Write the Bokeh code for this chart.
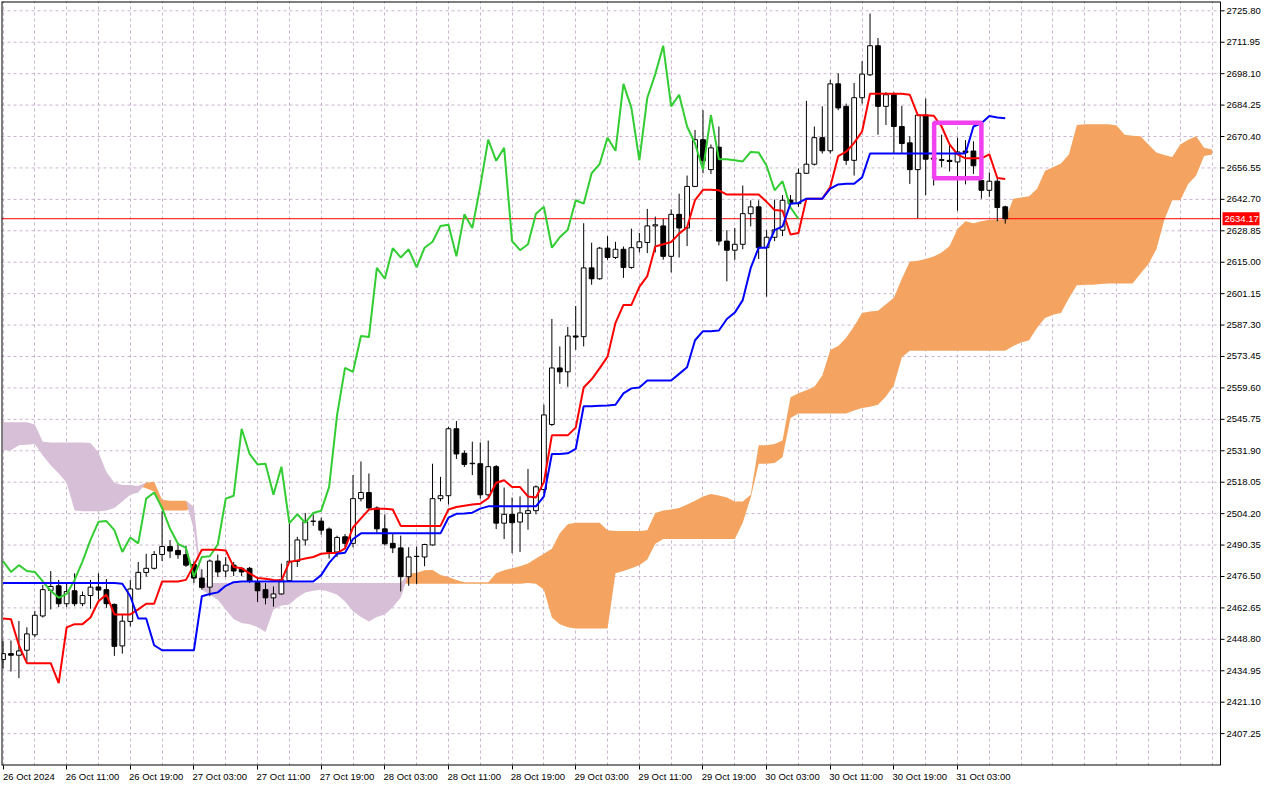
from bokeh.plotting import figure
from bokeh.models import Range1d, FixedTicker, Span
from bokeh.core.properties import value
from bokeh.embed import file_html
from bokeh.resources import INLINE

# ---------------- data (H1 bars) ----------------
XLABELS = ["26 Oct 2024", "26 Oct 11:00", "26 Oct 19:00", "27 Oct 03:00", "27 Oct 11:00",
           "27 Oct 19:00", "28 Oct 03:00", "28 Oct 11:00", "28 Oct 19:00", "29 Oct 03:00",
           "29 Oct 11:00", "29 Oct 19:00", "30 Oct 03:00", "30 Oct 11:00", "30 Oct 19:00",
           "31 Oct 03:00"]

PRICE_TICKS = [2725.80, 2711.95, 2698.10, 2684.25, 2670.40, 2656.55, 2642.70, 2628.85,
               2615.00, 2601.15, 2587.30, 2573.45, 2559.60, 2545.75, 2531.90, 2518.05,
               2504.20, 2490.35, 2476.50, 2462.65, 2448.80, 2434.95, 2421.10, 2407.25]

LAST_PRICE = 2634.17

OPEN = [
    2439.9, 2442.5, 2441.8, 2444.0, 2450.8, 2459.1, 2470.4, 2472.4, 2464.5, 2470.2,
    2464.5, 2468.1, 2471.9, 2470.7, 2464.2, 2445.9, 2456.7, 2471.0, 2478.3, 2480.1,
    2486.2, 2489.7, 2488.0, 2486.1, 2481.8, 2475.8, 2471.8, 2483.3, 2478.9, 2481.5,
    2480.1, 2480.1, 2473.8, 2470.7, 2467.1, 2468.8, 2474.7, 2483.2, 2492.6, 2500.8,
    2500.9, 2497.4, 2487.3, 2494.0, 2491.1, 2510.8, 2513.5, 2506.7, 2497.5, 2491.1,
    2489.1, 2476.4, 2485.3, 2485.1, 2490.4, 2510.8, 2512.1, 2541.6, 2530.8, 2526.4,
    2526.2, 2512.5, 2524.9, 2500.0, 2503.9, 2500.5, 2504.3, 2505.5, 2514.8, 2543.5,
    2568.4, 2566.7, 2582.5, 2582.2, 2612.5, 2607.7, 2621.2, 2617.1, 2620.7, 2612.7,
    2621.4, 2623.7, 2631.0, 2631.0, 2617.6, 2636.1, 2630.1, 2648.4, 2669.0, 2655.8,
    2665.7, 2624.3, 2620.3, 2622.9, 2636.4, 2639.4, 2621.4, 2626.0, 2629.1, 2642.4,
    2640.8, 2654.2, 2658.2, 2669.9, 2664.1, 2693.6, 2683.7, 2659.9, 2687.5, 2697.6,
    2710.4, 2683.7, 2688.8, 2674.8, 2667.6, 2655.8, 2679.8, 2660.9, 2660.2, 2659.9,
    2659.2, 2664.0, 2664.0, 2651.0, 2646.7, 2650.7, 2639.4]

HIGH = [
    2448.2, 2448.3, 2456.9, 2454.1, 2461.3, 2472.8, 2478.9, 2475.0, 2473.6, 2477.9,
    2469.9, 2475.0, 2477.9, 2475.3, 2464.6, 2459.8, 2475.0, 2482.9, 2486.5, 2487.7,
    2505.3, 2492.6, 2490.9, 2490.1, 2483.2, 2479.7, 2484.0, 2486.2, 2485.1, 2482.9,
    2480.7, 2480.7, 2476.4, 2473.6, 2472.1, 2482.2, 2499.8, 2494.0, 2504.5, 2503.9,
    2502.4, 2498.1, 2494.5, 2495.2, 2521.2, 2527.2, 2521.9, 2507.4, 2503.9, 2495.2,
    2494.5, 2489.4, 2489.7, 2490.9, 2526.2, 2520.4, 2542.5, 2545.0, 2532.0, 2535.9,
    2535.6, 2536.4, 2525.6, 2515.7, 2511.3, 2511.8, 2523.9, 2516.7, 2552.2, 2590.0,
    2577.9, 2586.5, 2595.7, 2632.2, 2623.6, 2621.7, 2626.5, 2624.0, 2621.9, 2629.8,
    2627.9, 2638.5, 2635.1, 2634.1, 2638.3, 2645.2, 2653.2, 2673.3, 2682.0, 2666.9,
    2674.8, 2629.1, 2630.1, 2648.8, 2642.3, 2642.3, 2629.1, 2642.6, 2644.6, 2644.6,
    2656.3, 2686.1, 2674.8, 2683.7, 2695.4, 2698.3, 2684.9, 2694.0, 2703.6, 2724.6,
    2713.8, 2689.9, 2689.9, 2683.9, 2670.5, 2679.8, 2687.1, 2669.9, 2671.2, 2666.6,
    2669.9, 2668.8, 2668.3, 2654.6, 2654.6, 2651.7, 2639.9]

LOW = [
    2436.0, 2434.6, 2431.7, 2438.9, 2449.8, 2458.4, 2462.0, 2463.0, 2463.0, 2463.4,
    2463.4, 2462.3, 2466.3, 2462.7, 2441.5, 2442.5, 2454.5, 2470.7, 2476.4, 2479.6,
    2483.3, 2484.6, 2484.3, 2480.7, 2473.6, 2470.7, 2467.8, 2476.3, 2476.3, 2476.7,
    2476.7, 2473.6, 2465.2, 2464.2, 2463.2, 2468.5, 2474.6, 2480.7, 2490.1, 2498.8,
    2494.9, 2484.4, 2485.1, 2489.4, 2489.4, 2509.6, 2506.0, 2495.8, 2490.1, 2486.8,
    2469.9, 2472.4, 2473.2, 2481.0, 2490.1, 2509.6, 2508.2, 2528.3, 2524.8, 2521.2,
    2510.8, 2511.3, 2497.4, 2493.0, 2486.8, 2487.3, 2497.1, 2503.9, 2513.2, 2542.8,
    2561.4, 2560.1, 2576.4, 2577.9, 2605.1, 2607.3, 2616.1, 2616.4, 2608.1, 2612.1,
    2619.3, 2619.0, 2619.3, 2616.1, 2610.5, 2617.1, 2622.1, 2648.1, 2654.2, 2653.9,
    2622.4, 2606.6, 2616.1, 2620.7, 2630.8, 2616.4, 2599.8, 2624.3, 2626.5, 2639.4,
    2639.4, 2653.9, 2657.6, 2662.9, 2662.9, 2682.0, 2657.9, 2653.2, 2684.9, 2697.1,
    2671.2, 2675.5, 2662.9, 2662.9, 2649.5, 2634.4, 2644.5, 2648.8, 2656.8, 2655.0,
    2637.7, 2649.3, 2653.9, 2643.0, 2643.8, 2633.0, 2632.0]

CLOSE = [
    2442.5, 2441.8, 2443.7, 2451.2, 2459.4, 2470.7, 2472.1, 2464.5, 2469.9, 2464.5,
    2468.1, 2471.8, 2470.5, 2464.5, 2445.7, 2456.8, 2471.0, 2478.3, 2480.1, 2486.2,
    2489.7, 2487.7, 2486.1, 2481.5, 2475.8, 2471.7, 2483.3, 2478.5, 2481.5, 2478.9,
    2478.5, 2474.3, 2470.2, 2467.1, 2468.8, 2475.0, 2483.2, 2492.6, 2500.6, 2500.9,
    2496.9, 2487.3, 2493.7, 2491.1, 2510.8, 2513.5, 2506.7, 2497.5, 2490.9, 2489.1,
    2476.4, 2485.1, 2485.4, 2490.6, 2510.8, 2512.1, 2541.6, 2530.5, 2525.9, 2526.2,
    2512.5, 2524.9, 2500.0, 2503.9, 2500.2, 2504.5, 2505.5, 2516.0, 2547.7, 2568.4,
    2566.7, 2582.5, 2582.0, 2612.5, 2607.7, 2621.2, 2617.1, 2620.7, 2612.7, 2621.4,
    2624.0, 2631.0, 2631.5, 2617.6, 2636.1, 2630.1, 2648.4, 2669.0, 2659.7, 2665.4,
    2624.3, 2620.3, 2622.9, 2636.4, 2639.4, 2621.4, 2626.0, 2629.3, 2642.3, 2640.8,
    2654.2, 2658.2, 2669.9, 2664.1, 2693.6, 2683.0, 2659.9, 2687.5, 2697.9, 2710.4,
    2683.7, 2688.8, 2674.8, 2667.3, 2655.8, 2679.8, 2660.4, 2660.4, 2659.9, 2659.4,
    2663.6, 2663.3, 2657.5, 2646.7, 2650.7, 2639.1, 2634.17]

TENKAN = [
    2458.0, 2457.7, 2446.2, 2438.3, 2438.3, 2438.3, 2438.3, 2429.5, 2454.1, 2455.5,
    2455.5, 2458.4, 2465.6, 2468.5, 2459.8, 2459.8, 2459.8, 2462.0, 2464.5, 2464.5,
    2474.3, 2474.3, 2474.3, 2475.0, 2481.5, 2488.3, 2488.3, 2488.3, 2488.0, 2480.7,
    2480.1, 2477.9, 2475.8, 2475.5, 2475.0, 2474.7, 2482.9, 2483.6, 2484.4, 2485.1,
    2486.5, 2486.8, 2486.8, 2488.9, 2498.1, 2502.1, 2506.0, 2506.3, 2506.3, 2506.0,
    2498.8, 2498.8, 2498.8, 2498.8, 2498.8, 2498.8, 2506.0, 2507.1, 2507.7, 2508.2,
    2508.6, 2511.0, 2517.8, 2518.9, 2515.9, 2515.9, 2511.8, 2511.3, 2518.1, 2538.7,
    2538.7, 2538.7, 2542.1, 2559.8, 2563.4, 2568.2, 2573.4, 2588.3, 2596.2, 2596.2,
    2604.1, 2608.9, 2621.9, 2622.9, 2623.9, 2627.6, 2630.4, 2642.4, 2646.9, 2646.9,
    2646.7, 2644.8, 2644.8, 2644.8, 2644.8, 2644.8, 2641.6, 2638.0, 2637.7, 2627.2,
    2627.9, 2643.0, 2643.0, 2643.0, 2648.1, 2661.8, 2663.7, 2667.6, 2672.6, 2689.2,
    2689.2, 2689.2, 2689.2, 2689.2, 2688.8, 2679.8, 2679.8, 2679.6, 2674.8, 2666.9,
    2662.5, 2660.8, 2660.8, 2660.8, 2662.5, 2652.1, 2651.7]

KIJUN = [
    2473.6, 2473.6, 2473.6, 2473.6, 2473.6, 2473.6, 2473.6, 2473.6, 2473.6, 2473.6,
    2473.6, 2473.6, 2473.6, 2473.6, 2473.6, 2473.3, 2467.8, 2458.0, 2458.0, 2446.2,
    2444.0, 2444.0, 2444.0, 2444.0, 2444.0, 2467.8, 2468.8, 2469.5, 2472.4, 2474.0,
    2474.3, 2474.3, 2474.3, 2474.3, 2474.3, 2474.3, 2474.3, 2474.3, 2474.3, 2474.3,
    2477.1, 2482.5, 2486.5, 2487.0, 2493.0, 2495.5, 2495.5, 2495.5, 2495.5, 2495.5,
    2495.5, 2495.5, 2495.5, 2495.5, 2495.5, 2495.5, 2502.4, 2504.1, 2504.3, 2504.6,
    2506.4, 2507.4, 2507.4, 2507.4, 2507.4, 2507.4, 2507.4, 2507.4, 2511.8, 2530.5,
    2530.5, 2530.8, 2532.7, 2551.5, 2551.5, 2551.7, 2551.9, 2552.2, 2557.2, 2559.4,
    2559.8, 2562.9, 2562.9, 2562.9, 2562.9, 2565.8, 2568.7, 2580.6, 2584.6, 2584.6,
    2584.9, 2590.0, 2592.8, 2598.3, 2612.5, 2621.4, 2621.4, 2629.1, 2630.8, 2640.8,
    2641.1, 2643.0, 2643.0, 2643.0, 2647.4, 2649.3, 2649.6, 2649.6, 2652.4, 2662.9,
    2662.9, 2662.9, 2662.9, 2662.9, 2662.9, 2662.9, 2662.9, 2662.9, 2662.9, 2662.9,
    2662.9, 2662.9, 2674.8, 2676.2, 2679.4, 2678.8, 2678.4]

# Senkou span A / B, plotted from bar 0 to bar 152 (26 bars past the last candle)
SPAN_A = [
    2532.1, 2532.1, 2534.3, 2534.6, 2534.9, 2529.8, 2525.5, 2521.9, 2517.8, 2505.6,
    2505.3, 2505.3, 2505.3, 2505.6, 2506.7, 2509.6, 2512.5, 2513.5, 2517.8, 2518.2,
    2510.3, 2509.9, 2509.9, 2509.9, 2497.0, 2470.7, 2468.5, 2466.3, 2462.0, 2457.7,
    2456.0, 2455.5, 2454.2, 2452.0, 2462.0, 2463.7, 2464.2, 2467.2, 2469.4, 2470.2,
    2470.7, 2469.8, 2468.5, 2465.5, 2461.2, 2458.6, 2456.7, 2458.6, 2459.8, 2462.9,
    2467.2, 2477.7, 2478.1, 2479.2, 2479.4, 2477.2, 2476.3, 2474.9, 2474.0, 2474.0,
    2474.0, 2474.0, 2477.9, 2479.3, 2480.1, 2481.0, 2482.2, 2484.4, 2486.5, 2488.7,
    2495.5, 2499.5, 2500.2, 2500.2, 2500.2, 2500.2, 2496.9, 2496.6, 2496.6, 2496.6,
    2496.6, 2496.9, 2504.5, 2505.6, 2506.0, 2506.7, 2508.2, 2509.9, 2511.8, 2512.8,
    2512.2, 2511.3, 2509.6, 2509.6, 2512.5, 2534.3, 2534.3, 2534.9, 2536.4, 2555.5,
    2557.2, 2558.6, 2560.1, 2565.1, 2576.3, 2578.1, 2581.7, 2586.8, 2592.6, 2593.3,
    2593.6, 2596.5, 2599.3, 2607.7, 2615.3, 2615.7, 2616.4, 2617.5, 2619.3, 2622.1,
    2629.6, 2633.0, 2632.2, 2633.0, 2633.7, 2633.7, 2633.7, 2643.0, 2643.5, 2644.1,
    2647.4, 2655.3, 2656.8, 2658.5, 2662.5, 2675.5, 2675.8, 2675.8, 2675.8, 2675.8,
    2675.2, 2671.2, 2670.7, 2670.5, 2666.9, 2663.3, 2662.3, 2661.4, 2666.9, 2669.0,
    2670.5, 2665.4, 2664.7]

SPAN_B = [
    2544.5, 2544.5, 2544.5, 2544.5, 2543.5, 2535.9, 2535.6, 2535.6, 2535.6, 2535.6,
    2535.6, 2535.3, 2531.3, 2522.5, 2517.8, 2516.8, 2516.8, 2516.4, 2515.4, 2513.9,
    2505.6, 2505.6, 2505.6, 2505.6, 2507.0, 2473.6, 2473.6, 2473.6, 2473.6, 2473.6,
    2473.6, 2473.6, 2473.6, 2473.6, 2473.6, 2473.6, 2473.6, 2473.6, 2473.6, 2473.6,
    2473.6, 2473.6, 2473.6, 2473.6, 2473.6, 2473.6, 2473.6, 2473.6, 2473.6, 2473.6,
    2473.6, 2473.3, 2473.3, 2473.3, 2473.3, 2473.3, 2473.3, 2473.3, 2473.3, 2473.3,
    2473.3, 2473.3, 2473.3, 2473.3, 2473.3, 2473.3, 2473.6, 2473.3, 2470.7, 2458.4,
    2455.5, 2454.1, 2453.6, 2453.6, 2453.6, 2453.6, 2453.6, 2477.9, 2478.9, 2480.1,
    2481.5, 2484.0, 2490.9, 2493.0, 2493.0, 2493.0, 2493.0, 2493.0, 2493.0, 2493.0,
    2493.0, 2493.0, 2493.0, 2500.2, 2511.3, 2526.2, 2526.2, 2526.5, 2529.0, 2546.4,
    2548.3, 2548.3, 2548.3, 2548.3, 2548.3, 2548.3, 2548.3, 2549.6, 2550.7, 2551.3,
    2552.2, 2555.8, 2560.8, 2573.1, 2576.0, 2576.0, 2576.0, 2576.0, 2576.0, 2576.0,
    2576.0, 2576.0, 2576.0, 2576.0, 2576.0, 2576.0, 2576.0, 2578.1, 2579.6, 2580.6,
    2586.1, 2590.4, 2591.8, 2592.6, 2599.1, 2604.8, 2605.1, 2605.1, 2605.4, 2605.6,
    2605.6, 2605.6, 2605.6, 2609.9, 2614.2, 2620.7, 2633.7, 2642.3, 2642.3, 2649.5,
    2653.2, 2661.8, 2662.5]

CHIKOU_SHIFT = 26

# highlighted box (bars 117..123, price 2652.0..2676.5)
BOX_LEFT, BOX_RIGHT = 117.06, 123.0
BOX_BOTTOM, BOX_TOP = 2652.0, 2676.5

n = len(CLOSE)
assert len(OPEN) == n and len(HIGH) == n and len(LOW) == n
assert len(TENKAN) == n and len(KIJUN) == n
assert len(SPAN_A) == len(SPAN_B)

# ---------------- layout ----------------
W, H = 1264, 784
FONT = "Liberation Sans"
FS = "9.5px"
X0, X_AXIS = -0.19, 153.06            # bar range of the chart area
AXIS_PX = 1219                         # px from frame left to the price axis
PXB = AXIS_PX / (X_AXIS - X0)          # px per bar
XR = X0 + (W - 1) / PXB                # frame extends under the price scale
Y0, Y1 = 2393.2, 2729.9
PPX = (Y1 - Y0) / 766.0                # price per px (approx frame height)

p = figure(width=W, height=H, x_range=Range1d(X0, XR), y_range=Range1d(Y0, Y1),
           y_axis_location=None, toolbar_location=None, output_backend="svg",
           min_border_left=1, min_border_top=1, min_border_right=0, min_border_bottom=16,
           background_fill_color="white", border_fill_color="white",
           outline_line_color=None)

GRID = "#C9B3CD"
# vertical grid (every 4 bars)
p.xgrid.ticker = FixedTicker(ticks=list(range(0, 153, 4)))
p.xgrid.grid_line_color = GRID
p.xgrid.grid_line_dash = "3 3"
p.ygrid.visible = False
# horizontal grid stops at the price scale
p.segment(x0=[X0] * len(PRICE_TICKS), x1=[X_AXIS] * len(PRICE_TICKS),
          y0=PRICE_TICKS, y1=PRICE_TICKS, line_color=GRID, line_dash="3 3", line_width=1)

# cloud
sx = list(range(len(SPAN_A)))
upper = [max(a, b) for a, b in zip(SPAN_A, SPAN_B)]
p.varea(x=sx, y1=SPAN_B, y2=upper, fill_color="#F4A460")
p.varea(x=sx, y1=SPAN_A, y2=upper, fill_color="#D8BFD8")

# current price line
p.segment(x0=[X0], x1=[X_AXIS], y0=[LAST_PRICE], y1=[LAST_PRICE],
          line_color="#FF0000", line_width=1)

# candles
idx = list(range(n))
btop = [max(o, c) for o, c in zip(OPEN, CLOSE)]
bbot = [min(o, c) for o, c in zip(OPEN, CLOSE)]
bcol = ["white" if c >= o else "black" for o, c in zip(OPEN, CLOSE)]
p.segment(x0=idx, y0=HIGH, x1=idx, y1=LOW, line_color="black", line_width=1)
p.vbar(x=idx, width=0.6, top=btop, bottom=bbot, fill_color=bcol,
       line_color="black", line_width=1)

# ichimoku lines
chx = [i - CHIKOU_SHIFT for i in range(CHIKOU_SHIFT, n)]
p.line(chx, CLOSE[CHIKOU_SHIFT:], line_color="#32CD32", line_width=2)
p.line(idx, TENKAN, line_color="#FF0000", line_width=2)
p.line(idx, KIJUN, line_color="#0000FF", line_width=2)

# magenta box
p.quad(left=[BOX_LEFT], right=[BOX_RIGHT], bottom=[BOX_BOTTOM], top=[BOX_TOP],
       fill_color=None, line_color="#F040F0", line_width=4.5)

# frame: left, top, bottom (on the frame edge) and the price-scale line
p.segment(x0=[X0, X0, X0], x1=[X0, X_AXIS, X_AXIS], y0=[Y0, Y1, Y0], y1=[Y1, Y1, Y0],
          line_color="black", line_width=2)
p.add_layout(Span(location=X_AXIS, dimension="height", line_color="black", line_width=1))

# price scale: ticks and labels
p.segment(x0=[X_AXIS] * len(PRICE_TICKS), x1=[X_AXIS + 4 / PXB] * len(PRICE_TICKS),
          y0=PRICE_TICKS, y1=PRICE_TICKS, line_color="black", line_width=1)
p.text(x=[X_AXIS + 6 / PXB] * len(PRICE_TICKS), y=PRICE_TICKS,
       text=["%.2f" % t for t in PRICE_TICKS], text_align="left", text_baseline="middle",
       text_font=value(FONT), text_font_size=value(FS), text_color="black")

# current price tag
p.quad(left=[X_AXIS + 2 / PXB], right=[X_AXIS + 39 / PXB],
       bottom=[LAST_PRICE - 6.5 * PPX], top=[LAST_PRICE + 6.5 * PPX],
       fill_color="#FF0000", line_color=None)
p.text(x=[X_AXIS + 4 / PXB], y=[LAST_PRICE], text=["%.2f" % LAST_PRICE],
       text_align="left", text_baseline="middle",
       text_font=value(FONT), text_font_size=value(FS), text_color="white")

# time axis
lab_pos = [8 * k + 3.25 for k in range(len(XLABELS))]
p.xaxis.ticker = FixedTicker(ticks=lab_pos, minor_ticks=[8 * k for k in range(len(XLABELS))])
p.xaxis.major_label_overrides = {pos: lab for pos, lab in zip(lab_pos, XLABELS)}
p.xaxis.axis_line_color = None
p.xaxis.major_tick_line_color = None
p.xaxis.major_tick_out = 4
p.xaxis.major_tick_in = 0
p.xaxis.minor_tick_line_color = "black"
p.xaxis.minor_tick_out = 4
p.xaxis.minor_tick_in = 0
p.xaxis.major_label_standoff = 1
p.xaxis.major_label_text_font = FONT
p.xaxis.major_label_text_font_size = FS
p.xaxis.major_label_text_color = "black"

open("out.html", "w").write(file_html(p, INLINE))
